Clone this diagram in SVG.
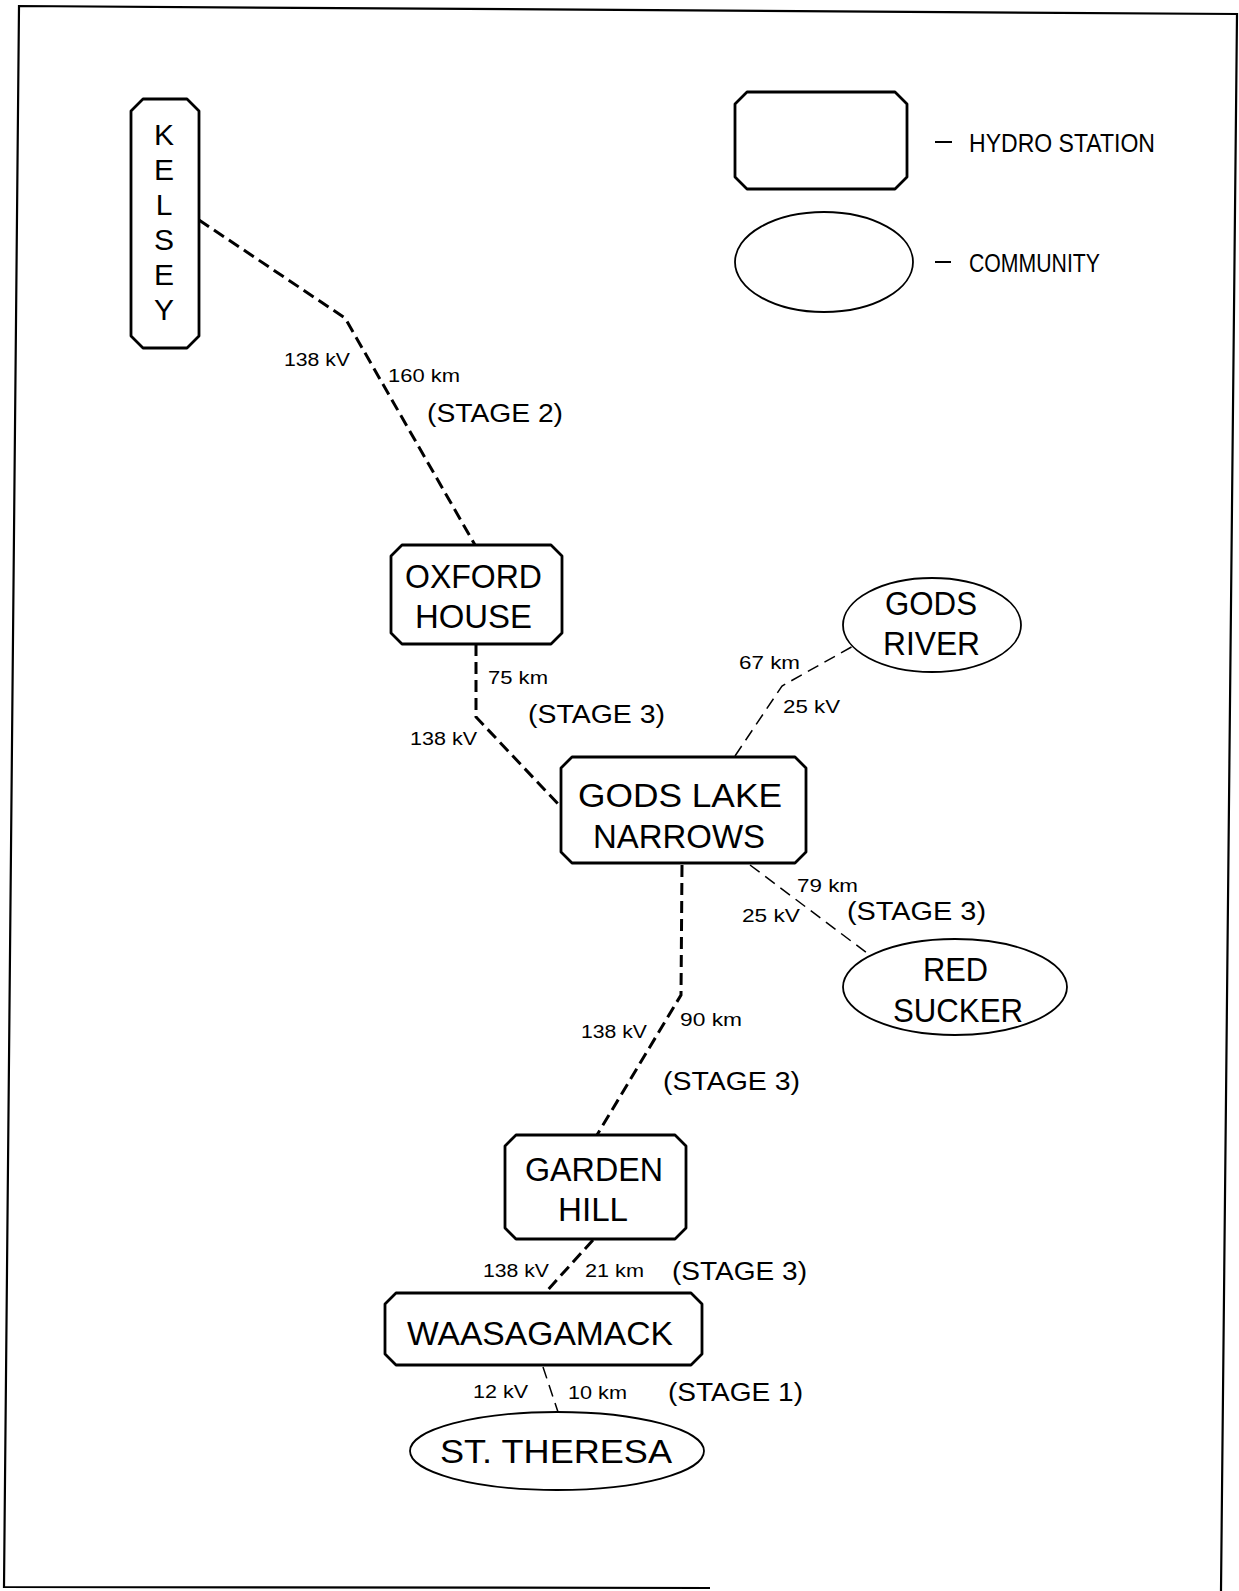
<svg xmlns="http://www.w3.org/2000/svg" width="1239" height="1591" viewBox="0 0 1239 1591">
<style>
.bg{fill:#fff}
.frame{fill:none;stroke:#000;stroke-width:2.2}
.station{fill:#fff;stroke:#000;stroke-width:2.8;stroke-linejoin:round}
.comm{fill:#fff;stroke:#000;stroke-width:1.8}
.thick{fill:none;stroke:#000;stroke-width:3;stroke-dasharray:12 6}
.thin{fill:none;stroke:#000;stroke-width:1.5;stroke-dasharray:12 7}
text{font-family:"Liberation Sans",Arial,sans-serif;fill:#000}
.big{font-size:34px}
.vert{font-size:30px}
.stage{font-size:25px}
.small{font-size:18px}
.leg{font-size:26px}
.legdash{stroke:#000;stroke-width:2}
</style>
<rect class="bg" x="0" y="0" width="1239" height="1591"/>
<path class="frame" d="M710,1588 L4,1587 L19,6 L1237,14 L1221,1591"/>

<g id="connectors">
<path class="thick" d="M199,220 L345,318 L475,545"/>
<path class="thick" d="M476,644 V717 L560,806"/>
<path class="thin" d="M735,756 L782,686 L855,645"/>
<path class="thin" d="M750,865 L867,953"/>
<path class="thick" d="M682,865 L681,995 L597,1135"/>
<path class="thick" d="M593,1240 L545,1293"/>
<path class="thin" d="M543,1367 L558,1412"/>
</g>

<g id="legend">
<path class="station" d="M747,92 H895 L907,104 V177 L895,189 H747 L735,177 V104 Z"/>
<line class="legdash" x1="935" y1="142" x2="952" y2="142"/>
<text class="leg" x="969" y="152" textLength="186" lengthAdjust="spacingAndGlyphs">HYDRO STATION</text>
<ellipse class="comm" cx="824" cy="262" rx="89" ry="50"/>
<line class="legdash" x1="935" y1="262" x2="951" y2="262"/>
<text class="leg" x="969" y="272" textLength="131" lengthAdjust="spacingAndGlyphs">COMMUNITY</text>
</g>

<g id="kelsey">
<path class="station" d="M143,99 H187 L199,111 V336 L187,348 H143 L131,336 V111 Z"/>
<g class="vert" text-anchor="middle">
<text x="164" y="145">K</text>
<text x="164" y="180">E</text>
<text x="164" y="215">L</text>
<text x="164" y="250">S</text>
<text x="164" y="285">E</text>
<text x="164" y="320">Y</text>
</g>
</g>

<g id="oxford-house">
<path class="station" d="M402,545 H551 L562,556 V633 L551,644 H402 L391,633 V556 Z"/>
<text class="big" x="405" y="588" textLength="137" lengthAdjust="spacingAndGlyphs">OXFORD</text>
<text class="big" x="415" y="628" textLength="117" lengthAdjust="spacingAndGlyphs">HOUSE</text>
</g>

<g id="gods-lake-narrows">
<path class="station" d="M572,757 H795 L806,768 V852 L795,863 H572 L561,852 V768 Z"/>
<text class="big" x="578" y="807" textLength="204" lengthAdjust="spacingAndGlyphs">GODS LAKE</text>
<text class="big" x="593" y="848" textLength="172" lengthAdjust="spacingAndGlyphs">NARROWS</text>
</g>

<g id="gods-river">
<ellipse class="comm" cx="932" cy="625" rx="89" ry="47"/>
<text class="big" x="885" y="615" textLength="92" lengthAdjust="spacingAndGlyphs">GODS</text>
<text class="big" x="883" y="655" textLength="97" lengthAdjust="spacingAndGlyphs">RIVER</text>
</g>

<g id="red-sucker">
<ellipse class="comm" cx="955" cy="987" rx="112" ry="48"/>
<text class="big" x="923" y="981" textLength="65" lengthAdjust="spacingAndGlyphs">RED</text>
<text class="big" x="893" y="1022" textLength="130" lengthAdjust="spacingAndGlyphs">SUCKER</text>
</g>

<g id="garden-hill">
<path class="station" d="M516,1135 H675 L686,1146 V1228 L675,1239 H516 L505,1228 V1146 Z"/>
<text class="big" x="525" y="1181" textLength="138" lengthAdjust="spacingAndGlyphs">GARDEN</text>
<text class="big" x="558" y="1221" textLength="70" lengthAdjust="spacingAndGlyphs">HILL</text>
</g>

<g id="waasagamack">
<path class="station" d="M396,1293 H691 L702,1304 V1354 L691,1365 H396 L385,1354 V1304 Z"/>
<text class="big" x="407" y="1345" textLength="266" lengthAdjust="spacingAndGlyphs">WAASAGAMACK</text>
</g>

<g id="st-theresa">
<ellipse class="comm" cx="557" cy="1451" rx="147" ry="39"/>
<text class="big" x="440" y="1463" textLength="232" lengthAdjust="spacingAndGlyphs">ST. THERESA</text>
</g>

<g id="labels">
<text class="small" x="284" y="366" textLength="66" lengthAdjust="spacingAndGlyphs">138 kV</text>
<text class="small" x="388" y="382" textLength="72" lengthAdjust="spacingAndGlyphs">160 km</text>
<text class="stage" x="427" y="422" textLength="136" lengthAdjust="spacingAndGlyphs">(STAGE 2)</text>
<text class="small" x="488" y="684" textLength="60" lengthAdjust="spacingAndGlyphs">75 km</text>
<text class="stage" x="528" y="723" textLength="137" lengthAdjust="spacingAndGlyphs">(STAGE 3)</text>
<text class="small" x="410" y="745" textLength="67" lengthAdjust="spacingAndGlyphs">138 kV</text>
<text class="small" x="739" y="669" textLength="61" lengthAdjust="spacingAndGlyphs">67 km</text>
<text class="small" x="783" y="713" textLength="57" lengthAdjust="spacingAndGlyphs">25 kV</text>
<text class="small" x="797" y="892" textLength="61" lengthAdjust="spacingAndGlyphs">79 km</text>
<text class="stage" x="847" y="920" textLength="139" lengthAdjust="spacingAndGlyphs">(STAGE 3)</text>
<text class="small" x="742" y="922" textLength="58" lengthAdjust="spacingAndGlyphs">25 kV</text>
<text class="small" x="581" y="1038" textLength="66" lengthAdjust="spacingAndGlyphs">138 kV</text>
<text class="small" x="680" y="1026" textLength="62" lengthAdjust="spacingAndGlyphs">90 km</text>
<text class="stage" x="663" y="1090" textLength="137" lengthAdjust="spacingAndGlyphs">(STAGE 3)</text>
<text class="small" x="483" y="1277" textLength="66" lengthAdjust="spacingAndGlyphs">138 kV</text>
<text class="small" x="585" y="1277" textLength="59" lengthAdjust="spacingAndGlyphs">21 km</text>
<text class="stage" x="672" y="1280" textLength="135" lengthAdjust="spacingAndGlyphs">(STAGE 3)</text>
<text class="small" x="473" y="1398" textLength="55" lengthAdjust="spacingAndGlyphs">12 kV</text>
<text class="small" x="568" y="1399" textLength="59" lengthAdjust="spacingAndGlyphs">10 km</text>
<text class="stage" x="668" y="1401" textLength="135" lengthAdjust="spacingAndGlyphs">(STAGE 1)</text>
</g>
</svg>
